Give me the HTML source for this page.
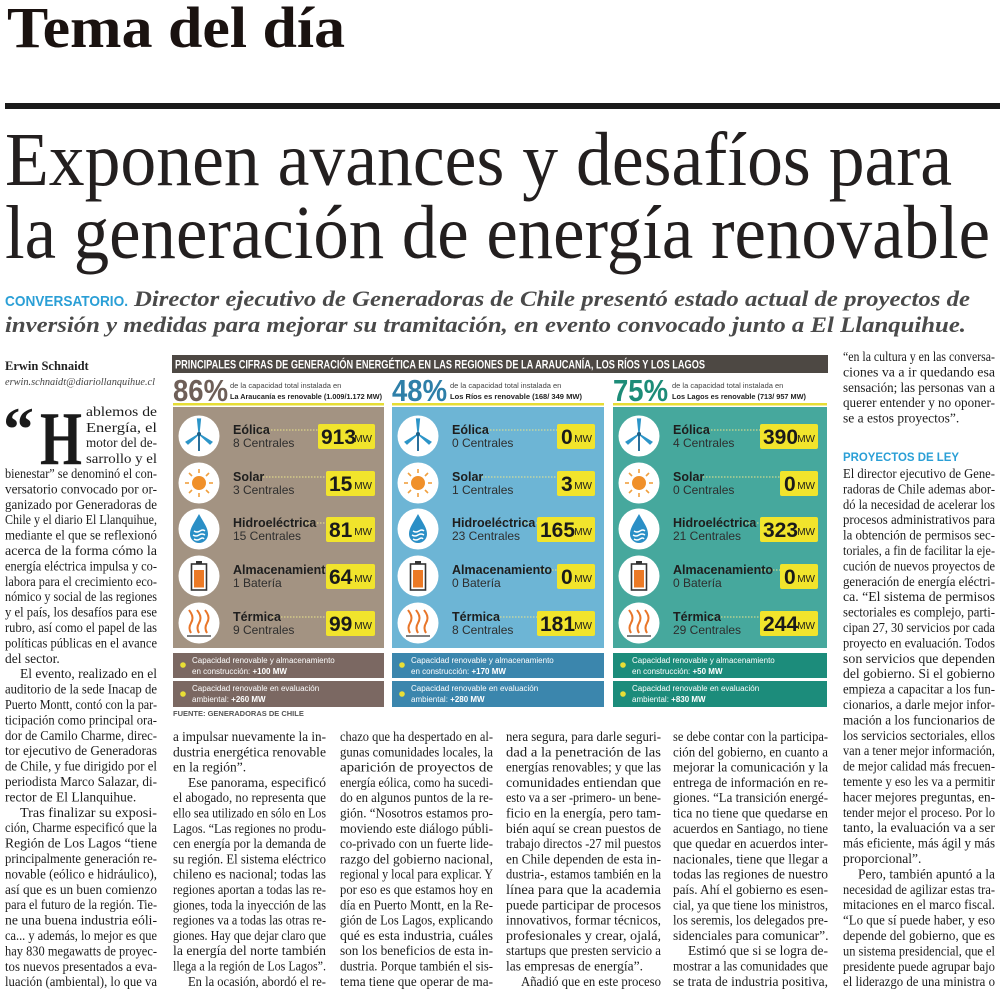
<!DOCTYPE html>
<html><head><meta charset="utf-8"><style>
html,body{margin:0;padding:0;background:#fff}
svg{display:block}
.b{font-family:"Liberation Serif",serif;font-size:13.5px;fill:#1c1c1c}
.s{font-family:"Liberation Sans",sans-serif}
.n{font-family:"Liberation Sans Narrow","Liberation Sans",sans-serif}
</style></head><body>
<svg width="1000" height="996" viewBox="0 0 1000 996" xmlns="http://www.w3.org/2000/svg">
<defs>
<g id="turb"><line x1="0" y1="-2" x2="0" y2="15" stroke="#2a6f9a" stroke-width="2"/><path d="M0-2 L-1.5-17 L1.5-17Z M0-2 L-13 6 L-11 8Z M0-2 L13 6 L11 8Z" fill="#2d95c8" stroke="#2d95c8" stroke-width="1.2"/><circle cx="0" cy="-2" r="2" fill="#1d5f86"/></g>
<g id="sun"><circle r="7" fill="#f0902a"/><g stroke="#f0a040" stroke-width="1.6"><line x1="0" y1="-10" x2="0" y2="-14"/><line x1="0" y1="10" x2="0" y2="14"/><line x1="-10" y1="0" x2="-14" y2="0"/><line x1="10" y1="0" x2="14" y2="0"/><line x1="7" y1="7" x2="10" y2="10"/><line x1="-7" y1="-7" x2="-10" y2="-10"/><line x1="7" y1="-7" x2="10" y2="-10"/><line x1="-7" y1="7" x2="-10" y2="10"/></g></g>
<g id="drop"><path d="M0-15 C5-6 9-1 9 5 A9 9 0 0 1 -9 5 C-9-1 -5-6 0-15Z" fill="#2b8fc6"/><g stroke="#fff" stroke-width="1.4" fill="none"><path d="M-5 2 q3 2 6 0 t5 0"/><path d="M-6 6 q3 2 6 0 t6 0"/><path d="M-5 10 q3 2 6 0 t4 0"/></g></g>
<g id="bat"><rect x="-3" y="-15" width="6" height="3" fill="#333"/><rect x="-7.5" y="-12" width="15" height="26" fill="#fff" stroke="#333" stroke-width="1.6"/><rect x="-5" y="-6" width="10" height="17.5" fill="#ec7a26"/></g>
<g id="heat"><g stroke="#e8762a" stroke-width="2" fill="none"><path d="M-8 10 q-3-5 0-10 t0-10 l-2 -3"/><path d="M0 10 q-3-5 0-10 t0-10 l-2 -3"/><path d="M8 10 q-3-5 0-10 t0-10 l-2 -3"/></g><line x1="-12" y1="13" x2="12" y2="13" stroke="#555" stroke-width="1.6"/></g>
</defs>

<!-- Header -->
<text x="7" y="47" font-family="Liberation Serif,serif" font-weight="bold" font-size="58" fill="#1a1210" textLength="338" lengthAdjust="spacingAndGlyphs">Tema del día</text>
<rect x="5" y="103" width="995" height="6" fill="#1a1a1a"/>
<text x="5" y="185" font-family="Liberation Serif,serif" font-size="76" fill="#231f1f" textLength="947" lengthAdjust="spacingAndGlyphs">Exponen avances y desafíos para</text>
<text x="5" y="258" font-family="Liberation Serif,serif" font-size="76" fill="#231f1f" textLength="985" lengthAdjust="spacingAndGlyphs">la generación de energía renovable</text>
<text x="5" y="306" class="s" font-weight="bold" font-size="15" fill="#2a9fd6" textLength="123" lengthAdjust="spacingAndGlyphs">CONVERSATORIO.</text>
<text x="134" y="306" font-family="Liberation Serif,serif" font-style="italic" font-weight="bold" font-size="22" fill="#4a4a4a" textLength="836" lengthAdjust="spacingAndGlyphs">Director ejecutivo de Generadoras de Chile presentó estado actual de proyectos de</text>
<text x="5" y="332" font-family="Liberation Serif,serif" font-style="italic" font-weight="bold" font-size="22" fill="#4a4a4a" textLength="961" lengthAdjust="spacingAndGlyphs">inversión y medidas para mejorar su tramitación, en evento convocado junto a El Llanquihue.</text>

<!-- Byline -->
<text x="5" y="370" font-family="Liberation Serif,serif" font-weight="bold" font-size="12.5" fill="#222">Erwin Schnaidt</text>
<text x="5" y="385" font-family="Liberation Serif,serif" font-style="italic" font-size="11" fill="#444" textLength="150" lengthAdjust="spacingAndGlyphs">erwin.schnaidt@diariollanquihue.cl</text>
<text x="3" y="450" font-family="Liberation Serif,serif" font-weight="bold" font-size="62" fill="#1a1a1a">“</text>
<text x="40" y="464" font-family="Liberation Serif,serif" font-weight="bold" font-size="76" fill="#1a1a1a" textLength="42" lengthAdjust="spacingAndGlyphs">H</text>

<!-- Left column -->
<g class="b">
<text x="86" y="416" textLength="71" lengthAdjust="spacingAndGlyphs">ablemos de</text>
<text x="86" y="432" textLength="71" lengthAdjust="spacingAndGlyphs">Energía, el</text>
<text x="86" y="447" textLength="71" lengthAdjust="spacingAndGlyphs">motor del de-</text>
<text x="86" y="463" textLength="71" lengthAdjust="spacingAndGlyphs">sarrollo y el</text>
<text x="5" y="478" textLength="152" lengthAdjust="spacingAndGlyphs">bienestar” se denominó el con-</text>
<text x="5" y="493.4" textLength="152" lengthAdjust="spacingAndGlyphs">versatorio convocado por or-</text>
<text x="5" y="508.8" textLength="152" lengthAdjust="spacingAndGlyphs">ganizado por Generadoras de</text>
<text x="5" y="524.2" textLength="152" lengthAdjust="spacingAndGlyphs">Chile y el diario El Llanquihue,</text>
<text x="5" y="539.6" textLength="152" lengthAdjust="spacingAndGlyphs">mediante el que se reflexionó</text>
<text x="5" y="555" textLength="152" lengthAdjust="spacingAndGlyphs">acerca de la forma cómo la</text>
<text x="5" y="570.4" textLength="152" lengthAdjust="spacingAndGlyphs">energía eléctrica impulsa y co-</text>
<text x="5" y="585.8" textLength="152" lengthAdjust="spacingAndGlyphs">labora para el crecimiento eco-</text>
<text x="5" y="601.2" textLength="152" lengthAdjust="spacingAndGlyphs">nómico y social de las regiones</text>
<text x="5" y="616.6" textLength="152" lengthAdjust="spacingAndGlyphs">y el país, los desafíos para ese</text>
<text x="5" y="632" textLength="152" lengthAdjust="spacingAndGlyphs">rubro, así como el papel de las</text>
<text x="5" y="647.4" textLength="152" lengthAdjust="spacingAndGlyphs">políticas públicas en el avance</text>
<text x="5" y="662.8">del sector.</text>
<text x="20" y="678.2" textLength="137" lengthAdjust="spacingAndGlyphs">El evento, realizado en el</text>
<text x="5" y="693.6" textLength="152" lengthAdjust="spacingAndGlyphs">auditorio de la sede Inacap de</text>
<text x="5" y="709" textLength="152" lengthAdjust="spacingAndGlyphs">Puerto Montt, contó con la par-</text>
<text x="5" y="724.4" textLength="152" lengthAdjust="spacingAndGlyphs">ticipación como principal ora-</text>
<text x="5" y="739.8" textLength="152" lengthAdjust="spacingAndGlyphs">dor de Camilo Charme, direc-</text>
<text x="5" y="755.2" textLength="152" lengthAdjust="spacingAndGlyphs">tor ejecutivo de Generadoras</text>
<text x="5" y="770.6" textLength="152" lengthAdjust="spacingAndGlyphs">de Chile, y fue dirigido por el</text>
<text x="5" y="786" textLength="152" lengthAdjust="spacingAndGlyphs">periodista Marco Salazar, di-</text>
<text x="5" y="801.4">rector de El Llanquihue.</text>
<text x="20" y="816.8" textLength="137" lengthAdjust="spacingAndGlyphs">Tras finalizar su exposi-</text>
<text x="5" y="832.2" textLength="152" lengthAdjust="spacingAndGlyphs">ción, Charme especificó que la</text>
<text x="5" y="847.6" textLength="152" lengthAdjust="spacingAndGlyphs">Región de Los Lagos “tiene</text>
<text x="5" y="863" textLength="152" lengthAdjust="spacingAndGlyphs">principalmente generación re-</text>
<text x="5" y="878.4" textLength="152" lengthAdjust="spacingAndGlyphs">novable (eólico e hidráulico),</text>
<text x="5" y="893.8" textLength="152" lengthAdjust="spacingAndGlyphs">así que es un buen comienzo</text>
<text x="5" y="909.2" textLength="152" lengthAdjust="spacingAndGlyphs">para el futuro de la región. Tie-</text>
<text x="5" y="924.6" textLength="152" lengthAdjust="spacingAndGlyphs">ne una buena industria eóli-</text>
<text x="5" y="940" textLength="152" lengthAdjust="spacingAndGlyphs">ca... y además, lo mejor es que</text>
<text x="5" y="955.4" textLength="152" lengthAdjust="spacingAndGlyphs">hay 830 megawatts de proyec-</text>
<text x="5" y="970.8" textLength="152" lengthAdjust="spacingAndGlyphs">tos nuevos presentados a eva-</text>
<text x="5" y="986.2" textLength="152" lengthAdjust="spacingAndGlyphs">luación (ambiental), lo que va</text>
</g>

<!-- Infographic -->
<rect x="172" y="355" width="656" height="18" fill="#4d4843"/>
<text x="175" y="368.5" class="n" font-weight="bold" font-size="12" fill="#fff" textLength="530" lengthAdjust="spacingAndGlyphs">PRINCIPALES CIFRAS DE GENERACIÓN ENERGÉTICA  EN LAS REGIONES DE LA ARAUCANÍA, LOS RÍOS Y LOS LAGOS</text>

<!-- Panel 1 -->
<text x="173" y="401" class="n" font-weight="bold" font-size="31" fill="#6e5f58" textLength="55" lengthAdjust="spacingAndGlyphs">86%</text>
<text x="230" y="388" class="n" font-size="7.5" fill="#444">de la capacidad total instalada en</text>
<text x="230" y="399" class="n" font-weight="bold" font-size="7.5" fill="#222" textLength="152" lengthAdjust="spacingAndGlyphs">La Araucanía es renovable (1.009/1.172 MW)</text>
<rect x="173" y="403" width="211" height="2.5" fill="#e6dd35"/>
<rect x="173" y="407" width="211" height="241" fill="#a39382"/>
<rect x="173" y="653" width="211" height="25" fill="#7b6862"/>
<rect x="173" y="681" width="211" height="26" fill="#7b6862"/>

<!-- Panel 2 -->
<text x="392" y="401" class="n" font-weight="bold" font-size="31" fill="#2e7fa8" textLength="55" lengthAdjust="spacingAndGlyphs">48%</text>
<text x="450" y="388" class="n" font-size="7.5" fill="#444">de la capacidad total instalada en</text>
<text x="450" y="399" class="n" font-weight="bold" font-size="7.5" fill="#222" textLength="132" lengthAdjust="spacingAndGlyphs">Los Ríos es renovable  (168/ 349 MW)</text>
<rect x="392" y="403" width="212" height="2.5" fill="#e6dd35"/>
<rect x="392" y="407" width="212" height="241" fill="#6db5d5"/>
<rect x="392" y="653" width="212" height="25" fill="#3b86ad"/>
<rect x="392" y="681" width="212" height="26" fill="#3b86ad"/>

<!-- Panel 3 -->
<text x="613" y="401" class="n" font-weight="bold" font-size="31" fill="#1d8c78" textLength="55" lengthAdjust="spacingAndGlyphs">75%</text>
<text x="672" y="388" class="n" font-size="7.5" fill="#444">de la capacidad total instalada en</text>
<text x="672" y="399" class="n" font-weight="bold" font-size="7.5" fill="#222" textLength="134" lengthAdjust="spacingAndGlyphs">Los Lagos es renovable  (713/ 957 MW)</text>
<rect x="613" y="403" width="214" height="2.5" fill="#e6dd35"/>
<rect x="613" y="407" width="214" height="241" fill="#46a89d"/>
<rect x="613" y="653" width="214" height="25" fill="#1c8c7b"/>
<rect x="613" y="681" width="214" height="26" fill="#1c8c7b"/>

<!-- Circles & icons -->
<g fill="#fff">
<circle cx="199" cy="436" r="20.5"/><circle cx="199" cy="483" r="20.5"/><circle cx="199" cy="529" r="20.5"/><circle cx="199" cy="576" r="20.5"/><circle cx="199" cy="623" r="20.5"/>
<circle cx="418" cy="436" r="20.5"/><circle cx="418" cy="483" r="20.5"/><circle cx="418" cy="529" r="20.5"/><circle cx="418" cy="576" r="20.5"/><circle cx="418" cy="623" r="20.5"/>
<circle cx="639" cy="436" r="20.5"/><circle cx="639" cy="483" r="20.5"/><circle cx="639" cy="529" r="20.5"/><circle cx="639" cy="576" r="20.5"/><circle cx="639" cy="623" r="20.5"/>
</g>
<use href="#turb" x="199" y="436"/><use href="#sun" x="199" y="483"/><use href="#drop" x="199" y="529"/><use href="#bat" x="199" y="576"/><use href="#heat" x="199" y="623"/>
<use href="#turb" x="418" y="436"/><use href="#sun" x="418" y="483"/><use href="#drop" x="418" y="529"/><use href="#bat" x="418" y="576"/><use href="#heat" x="418" y="623"/>
<use href="#turb" x="639" y="436"/><use href="#sun" x="639" y="483"/><use href="#drop" x="639" y="529"/><use href="#bat" x="639" y="576"/><use href="#heat" x="639" y="623"/>

<!-- dotted connectors -->
<g stroke="#ece58a" stroke-width="1" stroke-dasharray="1.5,1.5">
<line x1="262" y1="430" x2="318" y2="430"/><line x1="254" y1="477" x2="326" y2="477"/><line x1="305" y1="523" x2="326" y2="523"/><line x1="320" y1="570" x2="326" y2="570"/><line x1="272" y1="617" x2="326" y2="617"/>
<line x1="481" y1="430" x2="557" y2="430"/><line x1="473" y1="477" x2="557" y2="477"/><line x1="524" y1="523" x2="537" y2="523"/><line x1="540" y1="570" x2="557" y2="570"/><line x1="491" y1="617" x2="537" y2="617"/>
<line x1="702" y1="430" x2="760" y2="430"/><line x1="694" y1="477" x2="780" y2="477"/><line x1="745" y1="523" x2="760" y2="523"/><line x1="761" y1="570" x2="780" y2="570"/><line x1="712" y1="617" x2="760" y2="617"/>
</g>

<!-- labels -->
<g class="n" font-size="12.5" fill="#1e1e1e">
<g font-weight="bold">
<text x="233" y="434">Eólica</text><text x="233" y="481">Solar</text><text x="233" y="527">Hidroeléctrica</text><text x="233" y="574">Almacenamiento</text><text x="233" y="621">Térmica</text>
<text x="452" y="434">Eólica</text><text x="452" y="481">Solar</text><text x="452" y="527">Hidroeléctrica</text><text x="452" y="574">Almacenamiento</text><text x="452" y="621">Térmica</text>
<text x="673" y="434">Eólica</text><text x="673" y="481">Solar</text><text x="673" y="527">Hidroeléctrica</text><text x="673" y="574">Almacenamiento</text><text x="673" y="621">Térmica</text>
</g>
<g font-size="12" fill="#2e2e2e">
<text x="233" y="447">8 Centrales</text><text x="233" y="494">3 Centrales</text><text x="233" y="540">15 Centrales</text><text x="233" y="587">1 Batería</text><text x="233" y="634">9 Centrales</text>
<text x="452" y="447">0 Centrales</text><text x="452" y="494">1 Centrales</text><text x="452" y="540">23 Centrales</text><text x="452" y="587">0 Batería</text><text x="452" y="634">8 Centrales</text>
<text x="673" y="447">4 Centrales</text><text x="673" y="494">0 Centrales</text><text x="673" y="540">21 Centrales</text><text x="673" y="587">0 Batería</text><text x="673" y="634">29 Centrales</text>
</g>
</g>

<!-- value boxes -->
<g fill="#f1e42c">
<rect x="318" y="424" width="57" height="25" rx="2"/><rect x="326" y="471" width="49" height="25" rx="2"/><rect x="326" y="517" width="49" height="25" rx="2"/><rect x="326" y="564" width="49" height="25" rx="2"/><rect x="326" y="611" width="49" height="25" rx="2"/>
<rect x="557" y="424" width="38" height="25" rx="2"/><rect x="557" y="471" width="38" height="25" rx="2"/><rect x="537" y="517" width="58" height="25" rx="2"/><rect x="557" y="564" width="38" height="25" rx="2"/><rect x="537" y="611" width="58" height="25" rx="2"/>
<rect x="760" y="424" width="58" height="25" rx="2"/><rect x="780" y="471" width="38" height="25" rx="2"/><rect x="760" y="517" width="58" height="25" rx="2"/><rect x="780" y="564" width="38" height="25" rx="2"/><rect x="760" y="611" width="58" height="25" rx="2"/>
</g>
<g class="n" font-weight="bold" font-size="21" fill="#1a1a1a">
<text x="321" y="444">913</text><text x="329" y="491">15</text><text x="329" y="537">81</text><text x="329" y="584">64</text><text x="329" y="631">99</text>
<text x="561" y="444">0</text><text x="561" y="491">3</text><text x="540" y="537">165</text><text x="561" y="584">0</text><text x="540" y="631">181</text>
<text x="763" y="444">390</text><text x="784" y="491">0</text><text x="763" y="537">323</text><text x="784" y="584">0</text><text x="763" y="631">244</text>
</g>
<g class="n" font-size="10" fill="#1a1a1a" text-anchor="end">
<text x="372" y="442">MW</text><text x="372" y="489">MW</text><text x="372" y="535">MW</text><text x="372" y="582">MW</text><text x="372" y="629">MW</text>
<text x="592" y="442">MW</text><text x="592" y="489">MW</text><text x="592" y="535">MW</text><text x="592" y="582">MW</text><text x="592" y="629">MW</text>
<text x="815" y="442">MW</text><text x="815" y="489">MW</text><text x="815" y="535">MW</text><text x="815" y="582">MW</text><text x="815" y="629">MW</text>
</g>

<!-- bottom boxes text -->
<g fill="#e8df35"><circle cx="183" cy="665" r="2.8"/><circle cx="183" cy="694" r="2.8"/><circle cx="402" cy="665" r="2.8"/><circle cx="402" cy="694" r="2.8"/><circle cx="623" cy="665" r="2.8"/><circle cx="623" cy="694" r="2.8"/></g>
<g class="n" font-size="8" fill="#fff">
<text x="192" y="663">Capacidad renovable y almacenamiento</text><text x="192" y="674">en construcción: <tspan font-weight="bold">+100 MW</tspan></text>
<text x="192" y="691">Capacidad renovable en evaluación</text><text x="192" y="702">ambiental: <tspan font-weight="bold">+260 MW</tspan></text>
<text x="411" y="663">Capacidad renovable y almacenamiento</text><text x="411" y="674">en construcción: <tspan font-weight="bold">+170 MW</tspan></text>
<text x="411" y="691">Capacidad renovable en evaluación</text><text x="411" y="702">ambiental: <tspan font-weight="bold">+280 MW</tspan></text>
<text x="632" y="663">Capacidad renovable y almacenamiento</text><text x="632" y="674">en construcción: <tspan font-weight="bold">+50 MW</tspan></text>
<text x="632" y="691">Capacidad renovable en evaluación</text><text x="632" y="702">ambiental: <tspan font-weight="bold">+830 MW</tspan></text>
</g>
<text x="173" y="716" class="n" font-weight="bold" font-size="7.5" fill="#555">FUENTE: GENERADORAS DE CHILE</text>

<!-- Column 2 -->
<g class="b">
<text x="173" y="741" textLength="153" lengthAdjust="spacingAndGlyphs">a impulsar nuevamente la in-</text>
<text x="173" y="756.3" textLength="153" lengthAdjust="spacingAndGlyphs">dustria energética renovable</text>
<text x="173" y="771.6">en la región”.</text>
<text x="188" y="786.9" textLength="138" lengthAdjust="spacingAndGlyphs">Ese panorama, especificó</text>
<text x="173" y="802.2" textLength="153" lengthAdjust="spacingAndGlyphs">el abogado, no representa que</text>
<text x="173" y="817.5" textLength="153" lengthAdjust="spacingAndGlyphs">ello sea utilizado en sólo en Los</text>
<text x="173" y="832.8" textLength="153" lengthAdjust="spacingAndGlyphs">Lagos. “Las regiones no produ-</text>
<text x="173" y="848.1" textLength="153" lengthAdjust="spacingAndGlyphs">cen energía por la demanda de</text>
<text x="173" y="863.4" textLength="153" lengthAdjust="spacingAndGlyphs">su región. El sistema eléctrico</text>
<text x="173" y="878.7" textLength="153" lengthAdjust="spacingAndGlyphs">chileno es nacional; todas las</text>
<text x="173" y="894" textLength="153" lengthAdjust="spacingAndGlyphs">regiones aportan a todas las re-</text>
<text x="173" y="909.3" textLength="153" lengthAdjust="spacingAndGlyphs">giones, toda la inyección de las</text>
<text x="173" y="924.6" textLength="153" lengthAdjust="spacingAndGlyphs">regiones va a todas las otras re-</text>
<text x="173" y="939.9" textLength="153" lengthAdjust="spacingAndGlyphs">giones. Hay que dejar claro que</text>
<text x="173" y="955.2" textLength="153" lengthAdjust="spacingAndGlyphs">la energía del norte también</text>
<text x="173" y="970.5" textLength="153" lengthAdjust="spacingAndGlyphs">llega a la región de Los Lagos”.</text>
<text x="188" y="985.8" textLength="138" lengthAdjust="spacingAndGlyphs">En la ocasión, abordó el re-</text>
</g>

<!-- Column 3 -->
<g class="b">
<text x="340" y="741" textLength="153" lengthAdjust="spacingAndGlyphs">chazo que ha despertado en al-</text>
<text x="340" y="756.3" textLength="153" lengthAdjust="spacingAndGlyphs">gunas comunidades locales, la</text>
<text x="340" y="771.6" textLength="153" lengthAdjust="spacingAndGlyphs">aparición de proyectos de</text>
<text x="340" y="786.9" textLength="153" lengthAdjust="spacingAndGlyphs">energía eólica, como ha sucedi-</text>
<text x="340" y="802.2" textLength="153" lengthAdjust="spacingAndGlyphs">do en algunos puntos de la re-</text>
<text x="340" y="817.5" textLength="153" lengthAdjust="spacingAndGlyphs">gión. “Nosotros estamos pro-</text>
<text x="340" y="832.8" textLength="153" lengthAdjust="spacingAndGlyphs">moviendo este diálogo públi-</text>
<text x="340" y="848.1" textLength="153" lengthAdjust="spacingAndGlyphs">co-privado con un fuerte lide-</text>
<text x="340" y="863.4" textLength="153" lengthAdjust="spacingAndGlyphs">razgo del gobierno nacional,</text>
<text x="340" y="878.7" textLength="153" lengthAdjust="spacingAndGlyphs">regional y local para explicar. Y</text>
<text x="340" y="894" textLength="153" lengthAdjust="spacingAndGlyphs">por eso es que estamos hoy en</text>
<text x="340" y="909.3" textLength="153" lengthAdjust="spacingAndGlyphs">día en Puerto Montt, en la Re-</text>
<text x="340" y="924.6" textLength="153" lengthAdjust="spacingAndGlyphs">gión de Los Lagos, explicando</text>
<text x="340" y="939.9" textLength="153" lengthAdjust="spacingAndGlyphs">qué es esta industria, cuáles</text>
<text x="340" y="955.2" textLength="153" lengthAdjust="spacingAndGlyphs">son los beneficios de esta in-</text>
<text x="340" y="970.5" textLength="153" lengthAdjust="spacingAndGlyphs">dustria. Porque también el sis-</text>
<text x="340" y="985.8" textLength="153" lengthAdjust="spacingAndGlyphs">tema tiene que operar de ma-</text>
</g>

<!-- Column 4 -->
<g class="b">
<text x="506" y="741" textLength="155" lengthAdjust="spacingAndGlyphs">nera segura, para darle seguri-</text>
<text x="506" y="756.3" textLength="155" lengthAdjust="spacingAndGlyphs">dad a la penetración de las</text>
<text x="506" y="771.6" textLength="155" lengthAdjust="spacingAndGlyphs">energías renovables; y que las</text>
<text x="506" y="786.9" textLength="155" lengthAdjust="spacingAndGlyphs">comunidades entiendan que</text>
<text x="506" y="802.2" textLength="155" lengthAdjust="spacingAndGlyphs">esto va a ser -primero- un bene-</text>
<text x="506" y="817.5" textLength="155" lengthAdjust="spacingAndGlyphs">ficio en la energía, pero tam-</text>
<text x="506" y="832.8" textLength="155" lengthAdjust="spacingAndGlyphs">bién aquí se crean puestos de</text>
<text x="506" y="848.1" textLength="155" lengthAdjust="spacingAndGlyphs">trabajo directos -27 mil puestos</text>
<text x="506" y="863.4" textLength="155" lengthAdjust="spacingAndGlyphs">en Chile dependen de esta in-</text>
<text x="506" y="878.7" textLength="155" lengthAdjust="spacingAndGlyphs">dustria-, estamos también en la</text>
<text x="506" y="894" textLength="155" lengthAdjust="spacingAndGlyphs">línea para que la academia</text>
<text x="506" y="909.3" textLength="155" lengthAdjust="spacingAndGlyphs">puede participar de procesos</text>
<text x="506" y="924.6" textLength="155" lengthAdjust="spacingAndGlyphs">innovativos, formar técnicos,</text>
<text x="506" y="939.9" textLength="155" lengthAdjust="spacingAndGlyphs">profesionales y crear, ojalá,</text>
<text x="506" y="955.2" textLength="155" lengthAdjust="spacingAndGlyphs">startups que presten servicio a</text>
<text x="506" y="970.5">las empresas de energía”.</text>
<text x="521" y="985.8" textLength="140" lengthAdjust="spacingAndGlyphs">Añadió que en este proceso</text>
</g>

<!-- Column 5 -->
<g class="b">
<text x="673" y="741" textLength="155" lengthAdjust="spacingAndGlyphs">se debe contar con la participa-</text>
<text x="673" y="756.3" textLength="155" lengthAdjust="spacingAndGlyphs">ción del gobierno, en cuanto a</text>
<text x="673" y="771.6" textLength="155" lengthAdjust="spacingAndGlyphs">mejorar la comunicación y la</text>
<text x="673" y="786.9" textLength="155" lengthAdjust="spacingAndGlyphs">entrega de información en re-</text>
<text x="673" y="802.2" textLength="155" lengthAdjust="spacingAndGlyphs">giones. “La transición energé-</text>
<text x="673" y="817.5" textLength="155" lengthAdjust="spacingAndGlyphs">tica no tiene que quedarse en</text>
<text x="673" y="832.8" textLength="155" lengthAdjust="spacingAndGlyphs">acuerdos en Santiago, no tiene</text>
<text x="673" y="848.1" textLength="155" lengthAdjust="spacingAndGlyphs">que quedar en acuerdos inter-</text>
<text x="673" y="863.4" textLength="155" lengthAdjust="spacingAndGlyphs">nacionales, tiene que llegar a</text>
<text x="673" y="878.7" textLength="155" lengthAdjust="spacingAndGlyphs">todas las regiones de nuestro</text>
<text x="673" y="894" textLength="155" lengthAdjust="spacingAndGlyphs">país. Ahí el gobierno es esen-</text>
<text x="673" y="909.3" textLength="155" lengthAdjust="spacingAndGlyphs">cial, ya que tiene los ministros,</text>
<text x="673" y="924.6" textLength="155" lengthAdjust="spacingAndGlyphs">los seremis, los delegados pre-</text>
<text x="673" y="939.9">sidenciales para comunicar”.</text>
<text x="688" y="955.2" textLength="140" lengthAdjust="spacingAndGlyphs">Estimó que si se logra de-</text>
<text x="673" y="970.5" textLength="155" lengthAdjust="spacingAndGlyphs">mostrar a las comunidades que</text>
<text x="673" y="985.8" textLength="155" lengthAdjust="spacingAndGlyphs">se trata de industria positiva,</text>
</g>

<!-- Column 6 -->
<g class="b">
<text x="843" y="361" textLength="152" lengthAdjust="spacingAndGlyphs">“en la cultura y en las conversa-</text>
<text x="843" y="376.4" textLength="152" lengthAdjust="spacingAndGlyphs">ciones va a ir quedando esa</text>
<text x="843" y="391.8" textLength="152" lengthAdjust="spacingAndGlyphs">sensación; las personas van a</text>
<text x="843" y="407.2" textLength="152" lengthAdjust="spacingAndGlyphs">querer entender y no oponer-</text>
<text x="843" y="422.6">se a estos proyectos”.</text>
</g>
<text x="843" y="461" class="s" font-weight="bold" font-size="12" fill="#2a9fd6" textLength="116" lengthAdjust="spacingAndGlyphs">PROYECTOS DE LEY</text>
<g class="b">
<text x="843" y="478" textLength="152" lengthAdjust="spacingAndGlyphs">El director ejecutivo de Gene-</text>
<text x="843" y="493.4" textLength="152" lengthAdjust="spacingAndGlyphs">radoras de Chile ademas abor-</text>
<text x="843" y="508.8" textLength="152" lengthAdjust="spacingAndGlyphs">dó la necesidad de acelerar los</text>
<text x="843" y="524.2" textLength="152" lengthAdjust="spacingAndGlyphs">procesos administrativos para</text>
<text x="843" y="539.6" textLength="152" lengthAdjust="spacingAndGlyphs">la obtención de permisos sec-</text>
<text x="843" y="555" textLength="152" lengthAdjust="spacingAndGlyphs">toriales, a fin de facilitar la eje-</text>
<text x="843" y="570.4" textLength="152" lengthAdjust="spacingAndGlyphs">cución de nuevos proyectos de</text>
<text x="843" y="585.8" textLength="152" lengthAdjust="spacingAndGlyphs">generación de energía eléctri-</text>
<text x="843" y="601.2" textLength="152" lengthAdjust="spacingAndGlyphs">ca. “El sistema de permisos</text>
<text x="843" y="616.6" textLength="152" lengthAdjust="spacingAndGlyphs">sectoriales es complejo, parti-</text>
<text x="843" y="632" textLength="152" lengthAdjust="spacingAndGlyphs">cipan 27, 30 servicios por cada</text>
<text x="843" y="647.4" textLength="152" lengthAdjust="spacingAndGlyphs">proyecto en evaluación. Todos</text>
<text x="843" y="662.8" textLength="152" lengthAdjust="spacingAndGlyphs">son servicios que dependen</text>
<text x="843" y="678.2" textLength="152" lengthAdjust="spacingAndGlyphs">del gobierno. Si el gobierno</text>
<text x="843" y="693.6" textLength="152" lengthAdjust="spacingAndGlyphs">empieza a capacitar a los fun-</text>
<text x="843" y="709" textLength="152" lengthAdjust="spacingAndGlyphs">cionarios, a darle mejor infor-</text>
<text x="843" y="724.4" textLength="152" lengthAdjust="spacingAndGlyphs">mación a los funcionarios de</text>
<text x="843" y="739.8" textLength="152" lengthAdjust="spacingAndGlyphs">los servicios sectoriales, ellos</text>
<text x="843" y="755.2" textLength="152" lengthAdjust="spacingAndGlyphs">van a tener mejor información,</text>
<text x="843" y="770.6" textLength="152" lengthAdjust="spacingAndGlyphs">de mejor calidad más frecuen-</text>
<text x="843" y="786" textLength="152" lengthAdjust="spacingAndGlyphs">temente y eso les va a permitir</text>
<text x="843" y="801.4" textLength="152" lengthAdjust="spacingAndGlyphs">hacer mejores preguntas, en-</text>
<text x="843" y="816.8" textLength="152" lengthAdjust="spacingAndGlyphs">tender mejor el proceso. Por lo</text>
<text x="843" y="832.2" textLength="152" lengthAdjust="spacingAndGlyphs">tanto, la evaluación va a ser</text>
<text x="843" y="847.6" textLength="152" lengthAdjust="spacingAndGlyphs">más eficiente, más ágil y más</text>
<text x="843" y="863">proporcional”.</text>
<text x="858" y="878.4" textLength="137" lengthAdjust="spacingAndGlyphs">Pero, también apuntó a la</text>
<text x="843" y="893.8" textLength="152" lengthAdjust="spacingAndGlyphs">necesidad de agilizar estas tra-</text>
<text x="843" y="909.2" textLength="152" lengthAdjust="spacingAndGlyphs">mitaciones en el marco fiscal.</text>
<text x="843" y="924.6" textLength="152" lengthAdjust="spacingAndGlyphs">“Lo que sí puede haber, y eso</text>
<text x="843" y="940" textLength="152" lengthAdjust="spacingAndGlyphs">depende del gobierno, que es</text>
<text x="843" y="955.4" textLength="152" lengthAdjust="spacingAndGlyphs">un sistema presidencial, que el</text>
<text x="843" y="970.8" textLength="152" lengthAdjust="spacingAndGlyphs">presidente puede agrupar bajo</text>
<text x="843" y="986.2" textLength="152" lengthAdjust="spacingAndGlyphs">el liderazgo de una ministra o</text>
</g>
</svg>
</body></html>
